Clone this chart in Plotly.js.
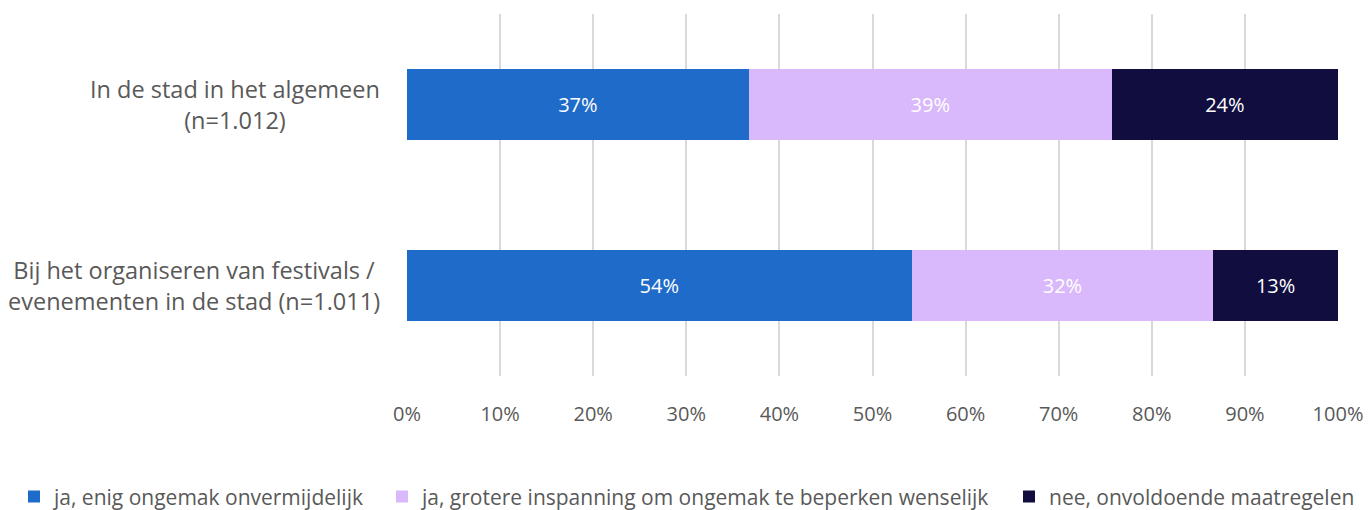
<!DOCTYPE html>
<html><head><meta charset="utf-8">
<script src="https://cdn.plot.ly/plotly-3.0.1.min.js"></script>
<style>body{margin:0;background:#fff}#chart{width:1368px;height:510px}</style>
</head><body><div id="chart"></div>
<script>
const categories = ["In de stad in het algemeen<br>(n=1.012)", "Bij het organiseren van festivals /<br>evenementen in de stad (n=1.011)"];
const seriesNames = ["ja, enig ongemak onvermijdelijk", "ja, grotere inspanning om ongemak te beperken wenselijk", "nee, onvoldoende maatregelen"];
const enigOngemak = [36.7, 54.2];
const groteInspanning = [39.0, 32.4];
const onvoldoende = [24.3, 13.4];
const colors = ["#1F6BC9", "#D9B8FB", "#110E3F"];
const tickVals = [0,10,20,30,40,50,60,70,80,90,100];

const font = "'Open Sans', sans-serif";
const yIdx = [0, 1];
const legendIds = ['legend', 'legend2', 'legend3'];
const traces = [enigOngemak, groteInspanning, onvoldoende].map((vals, i) => ({
  type: 'bar', orientation: 'h', name: seriesNames[i],
  x: vals, y: yIdx, legend: legendIds[i],
  marker: {color: colors[i], line: {width: 0}},
  width: 0.39,
  text: vals.map(v => Math.round(v) + '%'),
  textposition: 'inside', insidetextanchor: 'middle',
  textfont: {color: '#ffffff', size: 20, family: font},
  hoverinfo: 'none'
}));

const annotations = categories.map((c, i) => ({
  xref: 'paper', yref: 'y', x: 0, y: i, xanchor: 'right', yanchor: 'middle',
  xshift: -25, text: c, showarrow: false, align: 'center',
  font: {size: 23.5, color: '#595959', family: font}
}));

const legendStartPx = [14, 382, 1009];
const mkLegend = (px) => ({orientation: 'h', xref: 'container', yref: 'container',
  x: px / 1368, y: 0.026, xanchor: 'left', yanchor: 'middle', itemwidth: 30,
  font: {size: 21, color: '#595959', family: font}, bgcolor: 'rgba(0,0,0,0)'});

const layout = {
  width: 1368, height: 510,
  margin: {l: 407, r: 30, t: 14, b: 134},
  paper_bgcolor: '#fff', plot_bgcolor: '#fff',
  barmode: 'stack', bargap: 0.61,
  showlegend: true,
  xaxis: {range: [0, 100], tickvals: tickVals, ticktext: tickVals.map(v => v + '%'),
    showgrid: true, gridcolor: '#D9D9D9', gridwidth: 2, zeroline: false,
    ticks: 'outside', ticklen: 20, tickcolor: 'rgba(0,0,0,0)',
    tickfont: {size: 20, color: '#595959', family: font}, fixedrange: true},
  yaxis: {range: [1.5, -0.5], showticklabels: false, showgrid: false, zeroline: false, fixedrange: true},
  legend: mkLegend(legendStartPx[0]),
  legend2: mkLegend(legendStartPx[1]),
  legend3: mkLegend(legendStartPx[2]),
  annotations: annotations
};
Plotly.newPlot('chart', traces, layout, {displayModeBar: false, staticPlot: true});
</script></body></html>
